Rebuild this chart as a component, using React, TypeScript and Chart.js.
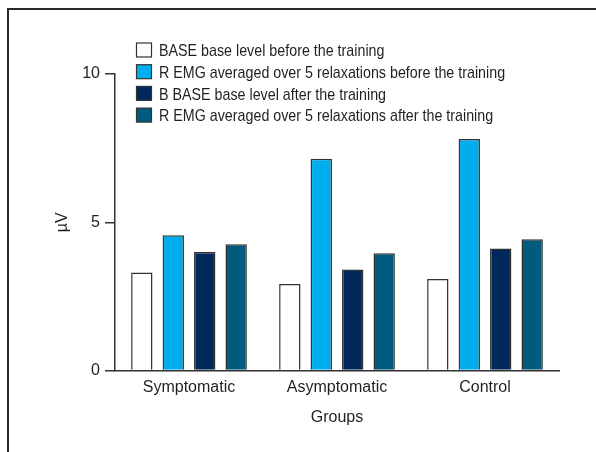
import React, { useEffect, useRef } from "react";
import { Chart, registerables } from "chart.js";

Chart.register(...registerables);

const categories = ["Symptomatic", "Asymptomatic", "Control"];
const seriesLabels = [
  "BASE base level before the training",
  "R EMG averaged over 5 relaxations before the training",
  "B BASE base level after the training",
  "R EMG averaged over 5 relaxations after the training",
];
const baseBefore = [3.31, 2.92, 3.09];
const emgBefore = [4.56, 7.14, 7.81];
const baseAfter = [4.0, 3.41, 4.12];
const emgAfter = [4.26, 3.96, 4.43];
const seriesColors = ["#ffffff", "#00adef", "#00285a", "#005b7f"];

const FONT = "'Liberation Sans Narrow', 'Liberation Sans', Arial, sans-serif";
const TEXT = "#231f20";
const LINE = "#333333";

const framePlugin = {
  id: "frame",
  beforeDraw(chart: any) {
    const ctx = chart.ctx;
    ctx.save();
    ctx.strokeStyle = "#2a2a2a";
    ctx.lineWidth = 2;
    ctx.beginPath();
    ctx.moveTo(8, chart.height);
    ctx.lineTo(8, 9);
    ctx.lineTo(chart.width, 9);
    ctx.stroke();
    ctx.restore();
  },
};

const legendPlugin = {
  id: "vlegend",
  afterDraw(chart: any) {
    const ctx = chart.ctx;
    ctx.save();
    ctx.textBaseline = "middle";
    chart.data.datasets.forEach((ds: any, i: number) => {
      const cy = 50.5 + i * 21.7;
      ctx.fillStyle = ds.backgroundColor;
      ctx.fillRect(136.5, cy - 7.5, 15, 14);
      ctx.strokeStyle = LINE;
      ctx.lineWidth = 1.2;
      ctx.strokeRect(136.5, cy - 7.5, 15, 14);
      ctx.save();
      ctx.translate(159, cy + 1);
      ctx.scale(0.84, 1);
      ctx.font = `17px ${FONT}`;
      ctx.fillStyle = TEXT;
      ctx.fillText(ds.label, 0, 0);
      ctx.restore();
    });
    ctx.restore();
  },
};

export default function App() {
  const ref = useRef<HTMLCanvasElement | null>(null);
  useEffect(() => {
    if (!ref.current) return;
    const all = [baseBefore, emgBefore, baseAfter, emgAfter];
    const chart = new Chart(ref.current, {
      type: "bar",
      data: {
        labels: categories,
        datasets: all.map((d, i) => ({
          label: seriesLabels[i],
          data: d,
          backgroundColor: seriesColors[i],
          borderColor: LINE,
          borderWidth: 1.5,
          categoryPercentage: 0.85,
          barPercentage: 0.68,
        })),
      },
      options: {
        animation: false,
        responsive: false,
        maintainAspectRatio: false,
        layout: { padding: { top: 74, right: 37, left: 53, bottom: 25 } },
        plugins: { legend: { display: false }, tooltip: { enabled: false } },
        scales: {
          x: {
            grid: { display: false, drawTicks: false },
            border: { display: true, color: LINE, width: 1.5 },
            ticks: { color: TEXT, font: { family: FONT, size: 16 }, padding: 7 },
            title: {
              display: true,
              text: "Groups",
              color: TEXT,
              font: { family: FONT, size: 16 },
              padding: { top: 4, bottom: 0 },
            },
          },
          y: {
            min: 0,
            max: 10,
            ticks: {
              stepSize: 5,
              color: TEXT,
              font: { family: FONT, size: 16 },
              padding: 5,
            },
            grid: {
              drawOnChartArea: false,
              drawTicks: true,
              tickLength: 10,
              color: LINE,
              lineWidth: 1.5,
            },
            border: { display: true, color: LINE, width: 1.5 },
            title: {
              display: true,
              text: "µV",
              color: TEXT,
              font: { family: FONT, size: 16 },
              padding: { top: 0, bottom: 5 },
            },
          },
        },
      },
      plugins: [framePlugin, legendPlugin],
    });
    return () => chart.destroy();
  }, []);
  return (
    <div style={{ position: "absolute", left: 0, top: 0, width: 596, height: 452, background: "#fff" }}>
      <canvas ref={ref} width={596} height={452} style={{ display: "block" }} />
    </div>
  );
}
